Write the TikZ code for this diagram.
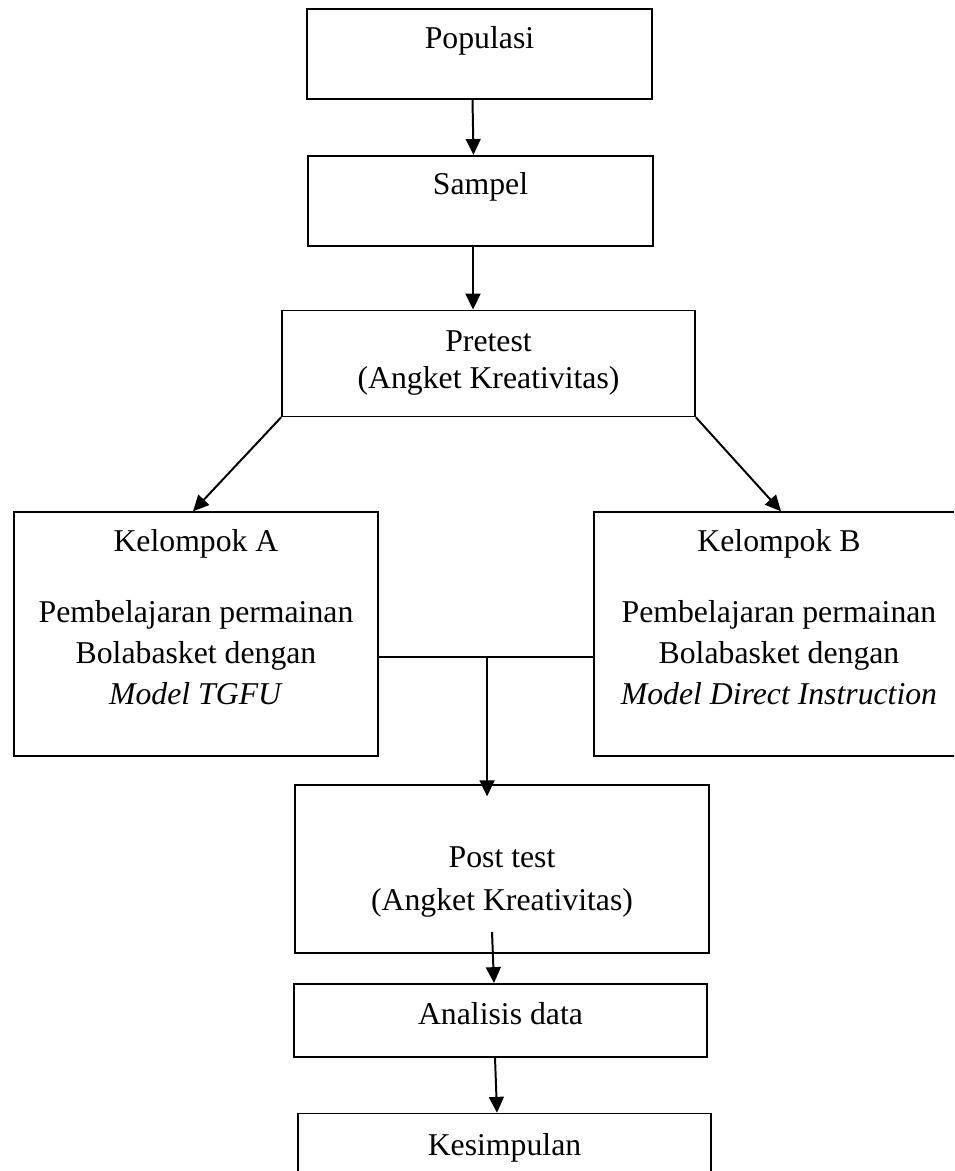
\documentclass[tikz,border=0pt]{standalone}
\usepackage{fontspec}
\setmainfont{Liberation Serif}
\usepackage{tikz}
\usetikzlibrary{positioning,arrows.meta,calc}
\newdimen\pxu
\pxu=0.378pt
\tikzset{
  box/.style={draw,line width=0.65pt,inner sep=0pt,align=center,font=\fontsize{12}{15.5}\selectfont},
  arr/.style={-{Triangle[length=6pt,width=5.6pt]},line width=0.75pt},
  lin/.style={line width=0.75pt},
}

\begin{document}
\begin{tikzpicture}
  \useasboundingbox (0,0) rectangle (954\pxu,-1171\pxu);
  \clip (0,0) rectangle (954\pxu,-1171\pxu);
  \node[box,minimum width=345\pxu,minimum height=90\pxu,text depth=12.7pt] (pop) at (479.5\pxu,-54\pxu) {Populasi};
  \node[box,minimum width=345\pxu,minimum height=90\pxu,text depth=12.7pt,below=55\pxu of pop,xshift=1\pxu] (sam) {Sampel};
  \node[box,minimum width=413\pxu,minimum height=106\pxu,below=63\pxu of sam,xshift=8\pxu] (pre) {Pretest\\[-1.5pt](Angket Kreativitas)};
  \node[box,minimum width=364\pxu,minimum height=244\pxu,below=94\pxu of pre,xshift=-292.5\pxu] (kelA)
    {Kelompok A\\[11.3pt]Pembelajaran permainan\\Bolabasket dengan\\\textit{Model TGFU}\\[-2.6pt]\mbox{}};
  \node[box,minimum width=370\pxu,minimum height=244\pxu,below=94\pxu of pre,xshift=290.5\pxu] (kelB)
    {Kelompok B\\[11.3pt]Pembelajaran permainan\\Bolabasket dengan\\\textit{Model Direct Instruction}\\[-2.6pt]\mbox{}};
  \node[box,minimum width=414\pxu,minimum height=168\pxu,below=367\pxu of pre,xshift=13.5\pxu] (post)
    {\mbox{}\\[1.9pt]Post test\\[0.7pt](Angket Kreativitas)};
  \node[box,minimum width=413\pxu,minimum height=73\pxu,text depth=5.5pt,below=29\pxu of post,xshift=-1.5\pxu] (ana) {Analisis data};
  \node[box,minimum width=413\pxu,minimum height=90\pxu,text depth=10.5pt,below=55\pxu of ana,xshift=4\pxu] (kes) {Kesimpulan};

  \draw[arr] ([xshift=-7\pxu]pop.south) -- ([xshift=-7\pxu]sam.north);
  \draw[arr] ([xshift=-7.5\pxu]sam.south) -- ([xshift=-15.5\pxu]pre.north);
  \draw[arr] (pre.south west) -- ([xshift=-3\pxu]kelA.north);
  \draw[arr] (pre.south east) -- ([xshift=2\pxu]kelB.north);
  \draw[lin] ([yshift=-23\pxu]kelA.east) -- coordinate[pos=0.505] (join) ([yshift=-23\pxu]kelB.west);
  \draw[arr] (join) -- ($(join |- post.north)+(0,-12\pxu)$);
  \draw[arr] ($(post.south)+(-10\pxu,22\pxu)$) -- ([xshift=-6.5\pxu]ana.north);
  \draw[arr] ([xshift=-5.5\pxu]ana.south) -- ([xshift=-7.5\pxu]kes.north);
\end{tikzpicture}
\end{document}
